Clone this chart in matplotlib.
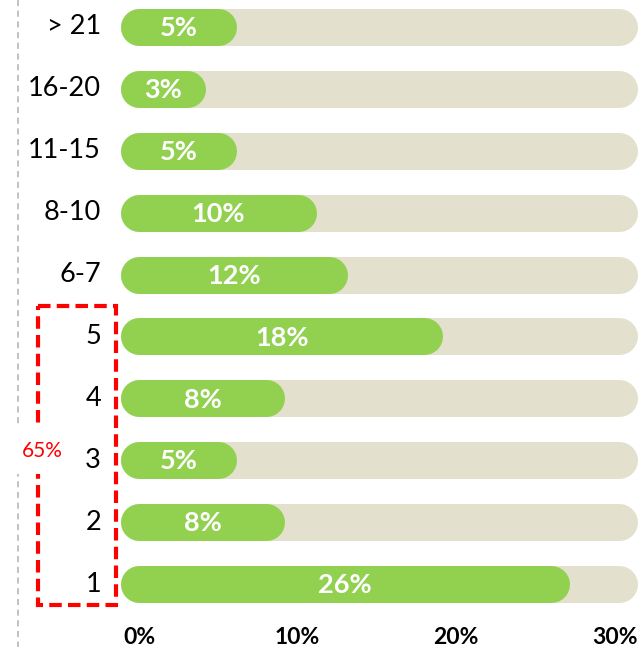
#!/usr/bin/env python3
import numpy as np
import matplotlib
matplotlib.use('Agg')
import matplotlib.pyplot as plt
from matplotlib.patches import Rectangle

## Data
categories = ['> 21', '16-20', '11-15', '8-10', '6-7', '5', '4', '3', '2', '1']
values = [5, 3, 5, 10, 12, 18, 8, 5, 8, 26]  # percent
track_max = 30.3
xticks = [0, 10, 20, 30]
group_label = '65%'

## Style
green = '#92D050'
track = '#E3E0CD'
plt.rcParams['font.family'] = ['Lato', 'DejaVu Sans']

W, H = 638, 647
dpi = 100
px0 = 139.0   # pixel x of 0%
ppu = 15.85   # pixels per percent
row0 = 27.0   # pixel y of first row
row_step = 61.89
ax_bottom_px = 615.0

fig = plt.figure(figsize=(W / dpi, H / dpi), dpi=dpi)
ax = fig.add_axes([0, (H - ax_bottom_px) / H, 1, ax_bottom_px / H])
ax.set_xlim(-px0 / ppu, (W - px0) / ppu)
ax.set_ylim((ax_bottom_px - row0) / row_step, -row0 / row_step)
for s in ax.spines.values():
    s.set_visible(False)
ax.set_yticks([])

def px_to_x(px):
    return (px - px0) / ppu

def py_to_y(py):
    return (py - row0) / row_step

bar_lw = 37 * 72 / dpi  # bar height in points
for i, (cat, v) in enumerate(zip(categories, values)):
    ax.plot([0, track_max], [i, i], color=track, lw=bar_lw,
            solid_capstyle='round', zorder=1)
    ax.plot([0, v], [i, i], color=green, lw=bar_lw,
            solid_capstyle='round', zorder=2)
    ax.text(v / 2, i + 0.02, '%d%%' % v, color='white', fontsize=19.5,
            fontweight='bold', ha='center', va='center', zorder=3)
    ax.text(px_to_x(101), i, cat, color='black', fontsize=19.5,
            ha='right', va='center', zorder=3)

## x axis labels
ax.set_xticks(xticks)
ax.set_xticklabels(['%d%%' % t for t in xticks], fontsize=16.5,
                   fontweight='bold')
ax.tick_params(axis='x', length=0, pad=9)

## gray dashed guide line on the left
gx = px_to_x(18)
ax.plot([gx, gx], [py_to_y(0), py_to_y(H)], color='#B0B0B0', lw=1.1,
        linestyle=(0, (4, 3)), clip_on=False, zorder=1)

## red dashed box around 1-5
x1, x2 = px_to_x(38), px_to_x(116)
y1, y2 = py_to_y(306), py_to_y(605)
ax.add_patch(Rectangle((x1, y1), x2 - x1, y2 - y1, fill=False,
                       edgecolor='#FF0000', lw=3,
                       linestyle=(0, (3, 1.5)), clip_on=False, zorder=4))
## white patch behind the 65% label
bx1, bx2 = px_to_x(10), px_to_x(74)
by1, by2 = py_to_y(427), py_to_y(474)
ax.add_patch(Rectangle((bx1, by1), bx2 - bx1, by2 - by1, facecolor='white',
                       edgecolor='none', clip_on=False, zorder=5))
ax.text(px_to_x(42), py_to_y(451), group_label, color='#FF0000',
        fontsize=15, ha='center', va='center', zorder=6)

plt.savefig('out.png', dpi=dpi)
plt.close(fig)
